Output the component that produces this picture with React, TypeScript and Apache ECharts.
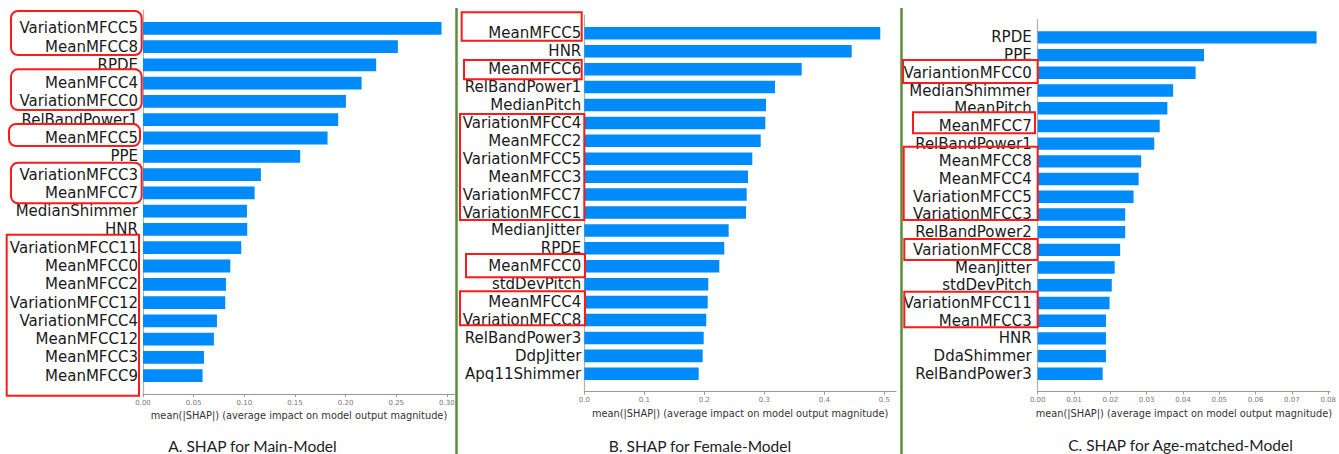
import React, { useEffect, useRef } from "react";
import * as echarts from "echarts";

// ---------- data ----------
const mainLabels = [
  "VariationMFCC5", "MeanMFCC8", "RPDE", "MeanMFCC4", "VariationMFCC0",
  "RelBandPower1", "MeanMFCC5", "PPE", "VariationMFCC3", "MeanMFCC7",
  "MedianShimmer", "HNR", "VariationMFCC11", "MeanMFCC0", "MeanMFCC2",
  "VariationMFCC12", "VariationMFCC4", "MeanMFCC12", "MeanMFCC3", "MeanMFCC9",
];
const mainValues = [
  0.2947, 0.2516, 0.2302, 0.2158, 0.2003,
  0.1927, 0.1822, 0.1552, 0.1164, 0.1102,
  0.1026, 0.1029, 0.097, 0.0862, 0.0819,
  0.0812, 0.073, 0.07, 0.0602, 0.0588,
];
const mainTicks = [0, 0.05, 0.1, 0.15, 0.2, 0.25, 0.3];

const femaleLabels = [
  "MeanMFCC5", "HNR", "MeanMFCC6", "RelBandPower1", "MedianPitch",
  "VariationMFCC4", "MeanMFCC2", "VariationMFCC5", "MeanMFCC3", "VariationMFCC7",
  "VariationMFCC1", "MedianJitter", "RPDE", "MeanMFCC0", "stdDevPitch",
  "MeanMFCC4", "VariationMFCC8", "RelBandPower3", "DdpJitter", "Apq11Shimmer",
];
const femaleValues = [
  0.4933, 0.4456, 0.3623, 0.3178, 0.3028,
  0.3017, 0.294, 0.28, 0.2728, 0.2706,
  0.2695, 0.2406, 0.2333, 0.225, 0.2067,
  0.2056, 0.2033, 0.199, 0.1973, 0.1906,
];
const femaleTicks = [0, 0.1, 0.2, 0.3, 0.4, 0.5];

const ageLabels = [
  "RPDE", "PPE", "VariantionMFCC0", "MedianShimmer", "MeanPitch",
  "MeanMFCC7", "RelBandPower1", "MeanMFCC8", "MeanMFCC4", "VariationMFCC5",
  "VariationMFCC3", "RelBandPower2", "VariationMFCC8", "MeanJitter", "stdDevPitch",
  "VariationMFCC11", "MeanMFCC3", "HNR", "DdaShimmer", "RelBandPower3",
];
const ageValues = [
  0.0768, 0.0458, 0.0435, 0.0373, 0.0357,
  0.0336, 0.0321, 0.0285, 0.0278, 0.0264,
  0.0241, 0.0241, 0.0227, 0.0212, 0.0204,
  0.0198, 0.0188, 0.0188, 0.0188, 0.0179,
];
const ageTicks = [0, 0.01, 0.02, 0.03, 0.04, 0.05, 0.06, 0.07, 0.08];

const axisTitle = "mean(|SHAP|) (average impact on model output magnitude)";
const captions = [
  "A. SHAP for Main-Model",
  "B. SHAP for Female-Model",
  "C. SHAP for Age-matched-Model",
];

// ---------- layout ----------
const W = 1339;
const H = 454;
const BAR = "#008bfb";
const RED = "#ff1a1a";
const GREEN = "#5b8c3a";

const panels = [
  { labels: mainLabels, values: mainValues, ticks: mainTicks, dec: 2, left: 143, right: 455, top: 10, bottom: 394, max: 0.308, margin: 5, cap: { x: 252.5, y: 446 } },
  { labels: femaleLabels, values: femaleValues, ticks: femaleTicks, dec: 1, left: 584.3, right: 896, top: 15.4, bottom: 391.7, max: 0.5195, margin: 3, cap: { x: 700, y: 445.5 } },
  { labels: ageLabels, values: ageValues, ticks: ageTicks, dec: 2, left: 1037.7, right: 1335, top: 19.7, bottom: 391.5, max: 0.0805, margin: 6, cap: { x: 1180.5, y: 445 } },
];

// annotation boxes [x1, y1, x2, y2, rounded]
const boxes: [number, number, number, number, boolean][] = [
  [11, 11, 141.7, 55, true],
  [11, 69.3, 141.7, 110, true],
  [9, 124, 140, 146, true],
  [11, 162.7, 141.7, 203.3, true],
  [6.7, 234.7, 139, 395.7, false],
  [461.7, 12.3, 581.7, 40.7, false],
  [464, 60, 581.7, 79.3, false],
  [460, 114, 584.3, 220, false],
  [466, 254, 585, 277.3, false],
  [460, 291.3, 585, 325.3, false],
  [903, 60, 1037.7, 83, false],
  [913, 112.3, 1035, 133.3, false],
  [903.7, 146.7, 1037.7, 220, false],
  [904.3, 239, 1037.7, 260, false],
  [904.3, 291.7, 1037.7, 327.3, false],
];

export default function App() {
  const ref = useRef<HTMLDivElement>(null);

  useEffect(() => {
    if (!ref.current) return;
    const chart = echarts.init(ref.current, null, { renderer: "svg" });

    const grid = panels.map((p) => ({
      left: p.left,
      top: p.top,
      width: p.right - p.left,
      height: p.bottom - p.top,
      containLabel: false,
    }));

    const xAxis = panels.map((p, i) => ({
      type: "value",
      gridIndex: i,
      min: 0,
      max: p.max,
      splitLine: { show: false },
      axisLine: { show: true, lineStyle: { color: "#9a9a9a", width: 1 } },
      axisTick: { show: true, length: 3, lineStyle: { color: "#9a9a9a" }, customValues: p.ticks },
      axisLabel: {
        customValues: p.ticks,
        formatter: (v: number) => v.toFixed(p.dec),
        fontFamily: "DejaVu Sans",
        fontSize: 7,
        color: "#777",
        margin: 5,
      },
      name: axisTitle,
      nameLocation: "middle",
      nameGap: 16.5,
      nameTextStyle: { fontFamily: "DejaVu Sans", fontSize: 9.8, color: "#333", verticalAlign: "top" },
    }));

    const yAxis = panels.map((p, i) => ({
      type: "category",
      gridIndex: i,
      inverse: true,
      boundaryGap: false,
      data: ["", ...p.labels, " "],
      axisLine: { show: true, lineStyle: { color: "#b0b0b0", width: 1.2 } },
      axisTick: { show: false },
      splitLine: { show: false },
      axisLabel: {
        interval: 0,
        fontFamily: "DejaVu Sans",
        fontSize: 15,
        color: "#1a1a1a",
        margin: p.margin,
      },
    }));

    const series = panels.map((p, i) => ({
      type: "bar",
      xAxisIndex: i,
      yAxisIndex: i,
      data: ["-", ...p.values, "-"],
      barWidth: "70%",
      itemStyle: { color: BAR },
      silent: true,
    }));

    const graphic: any[] = [];
    [456.5, 901.5].forEach((x) => {
      graphic.push({
        type: "line",
        shape: { x1: x, y1: 8, x2: x, y2: H },
        style: { stroke: GREEN, lineWidth: 2.5 },
        silent: true,
      });
    });
    boxes.forEach(([x1, y1, x2, y2, rounded]) => {
      graphic.push({
        type: "rect",
        shape: { x: x1, y: y1, width: x2 - x1, height: y2 - y1, r: rounded ? 7 : 0 },
        style: { fill: "none", stroke: RED, lineWidth: 2 },
        silent: true,
        z: 100,
      });
    });
    panels.forEach((p, i) => {
      graphic.push({
        type: "text",
        x: p.cap.x,
        y: p.cap.y,
        style: {
          text: captions[i],
          fontFamily: "Lato",
          fontSize: 15.5,
          fill: "#222",
          align: "center",
          verticalAlign: "middle",
        },
        silent: true,
      });
    });

    chart.setOption({
      animation: false,
      backgroundColor: "#ffffff",
      grid,
      xAxis,
      yAxis,
      series,
      graphic,
    } as any);

    return () => chart.dispose();
  }, []);

  return (
    <div
      ref={ref}
      style={{ position: "fixed", left: 0, top: 0, width: W, height: H, background: "#fff" }}
    />
  );
}
